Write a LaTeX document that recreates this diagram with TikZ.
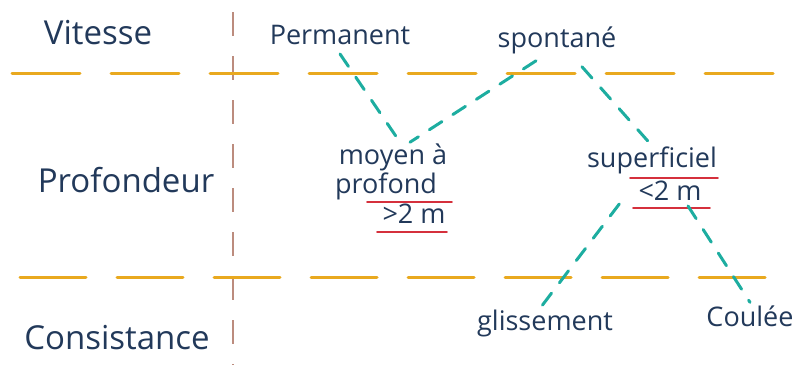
\documentclass[tikz,border=0pt]{standalone}
\usepackage{fontspec}
\setmainfont{Open Sans}
\usetikzlibrary{positioning}
\definecolor{ink}{HTML}{22395A}
\definecolor{rowline}{HTML}{E9A91F}
\definecolor{axisline}{HTML}{BC8C7E}
\definecolor{linkline}{HTML}{1DADA0}
\definecolor{underline}{HTML}{D5303C}
\tikzset{
  word/.style = {text=ink, font=\fontsize{27}{29}\selectfont, inner sep=1pt},
  title/.style = {text=ink, font=\fontsize{33}{35}\selectfont, inner sep=1pt},
  row/.style = {rowline, line width=3pt, line cap=round, dash pattern=on 66pt off 31pt},
  link/.style = {linkline, line width=3pt, line cap=round, dash pattern=on 15pt off 13pt},
  uline/.style = {underline, line width=1.6pt, line cap=round}
}
\begin{document}
\begin{tikzpicture}[x=1pt, y=-1pt]
	\useasboundingbox (0,0) rectangle (797,365);
	% grid of the table
	\draw [axisline, line width=2pt, dash pattern=on 24pt off 20pt] (233,12) -- (233,365);
	\draw [row, dash pattern=on 68pt off 31pt] (12,73) -- (775,73);
	\draw [row] (20,277) -- (765,277);
	% row titles
	\node [title] (vit) at (98,33) {Vitesse};
	\node [title] (prof) at (126,180) {Profondeur};
	\node [title] (cons) at (117,338) {Consistance};
	% entries
	\node [word] (perm) at (340,35) {Permanent};
	\node [word] (spont) at (557,40) {spontané};
	\node [word] (moyen) at (393,157) {moyen à};
	\node [word] (profd) at (386,186) {profond};
	\node [word] (gt) at (414,214) {>2 m};
	\node [word] (sup) at (652,160) {superficiel};
	\node [word] (lt) at (670,191) {<2 m};
	\node [word] (gliss) at (545,323) {glissement};
	\node [word] (coul) at (750,316) {Coulée};
	% underlines
	\draw [uline] (367,202) -- (452,202);
	\draw [uline] (377,232) -- (447,232);
	\draw [uline] (630,178) -- (718,178);
	\draw [uline] (633,208) -- (710,208);
	% links
	\draw [link] ([yshift=-8pt]perm.south) -- ([xshift=7pt]moyen.north);
	\draw [link] ([xshift=-21pt, yshift=-6pt]spont.south) -- ([xshift=17pt]moyen.north);
	\draw [link] ([xshift=25pt, yshift=-12pt]spont.south) -- ([xshift=-4pt, yshift=4pt]sup.north);
	\draw [link] ([xshift=-18pt, yshift=-2pt]lt.south west) -- ([xshift=-5pt]gliss.north);
	\draw [link] ([xshift=18pt, yshift=-4pt]lt.south) -- ([yshift=2pt]coul.north);
\end{tikzpicture}
\end{document}
